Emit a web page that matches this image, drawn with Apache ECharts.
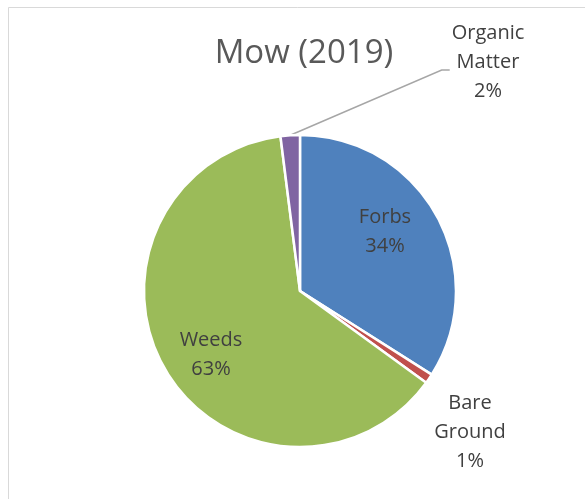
<!DOCTYPE html>
<html>
<head>
<meta charset="utf-8">
<script src="https://cdn.jsdelivr.net/npm/echarts@6/dist/echarts.min.js"></script>
<style>
  html, body { margin: 0; padding: 0; background: #ffffff; }
  #chart { width: 585px; height: 499px; }
</style>
</head>
<body>
<div id="chart"></div>
<script>
// Ground cover composition for the mowed plot
const chartTitle = 'Mow (2019)';
const categories = ['Forbs', 'Bare Ground', 'Weeds', 'Organic Matter'];
const shares = [34, 1, 63, 2];
const sliceColors = ['#4f81bd', '#c0504d', '#9bbb59', '#8064a2'];

const CX = 300, CY = 291, R = 156;

// Where each label block is centred
const labelSpots = [
  [385, 232],
  [470, 432],
  [211, 355],
  [488, 62]
];

const total = shares.reduce((a, b) => a + b, 0);

const seriesData = categories.map((name, i) => ({
  name: name,
  value: shares[i],
  itemStyle: { color: sliceColors[i] },
  label: { position: (i === 1 || i === 3) ? 'outside' : 'inside' },
  labelLine: { show: i === 3 }
}));

const chart = echarts.init(document.getElementById('chart'), null, { renderer: 'canvas' });

chart.setOption({
  animation: false,
  backgroundColor: '#ffffff',
  title: {
    text: chartTitle,
    left: 299,
    top: 32,
    textAlign: 'center',
    textStyle: {
      fontFamily: 'Open Sans',
      fontSize: 33,
      fontWeight: 'normal',
      color: '#595959'
    }
  },
  graphic: [{
    type: 'polyline',
    shape: { points: [[8.5, 600], [8.5, 7.5], [700, 7.5]] },
    style: { stroke: '#d9d9d9', lineWidth: 1, fill: null },
    silent: true
  }],
  series: [{
    type: 'pie',
    center: [CX, CY],
    radius: R,
    startAngle: 90,
    clockwise: true,
    avoidLabelOverlap: false,
    itemStyle: { borderColor: '#ffffff', borderWidth: 2.5 },
    label: {
      show: true,
      fontFamily: 'Open Sans',
      fontSize: 20,
      lineHeight: 29,
      color: '#404040',
      align: 'center',
      formatter: p => p.name.replace(' ', '\n') + '\n' + Math.round(p.value / total * 100) + '%'
    },
    labelLine: {
      lineStyle: { color: '#a6a6a6', width: 1.5 }
    },
    labelLayout: function (p) {
      const spot = labelSpots[p.dataIndex];
      const out = { x: spot[0], y: spot[1], align: 'center', verticalAlign: 'middle' };
      if (p.dataIndex === 3) {
        // leader from the slice's outer edge to the left of the label block
        let before = 0;
        for (let k = 0; k < 3; k++) before += shares[k];
        const mid = (before + shares[3] / 2) / total * Math.PI * 2;
        const sx = CX + R * Math.sin(mid);
        const sy = CY - R * Math.cos(mid);
        const ex = spot[0] - p.labelRect.width / 2 - 2;
        const ey = spot[1] + 8;
        out.labelLinePoints = [[sx, sy], [ex - 8, ey], [ex, ey]];
      }
      return out;
    },
    data: seriesData
  }]
});
</script>
</body>
</html>
